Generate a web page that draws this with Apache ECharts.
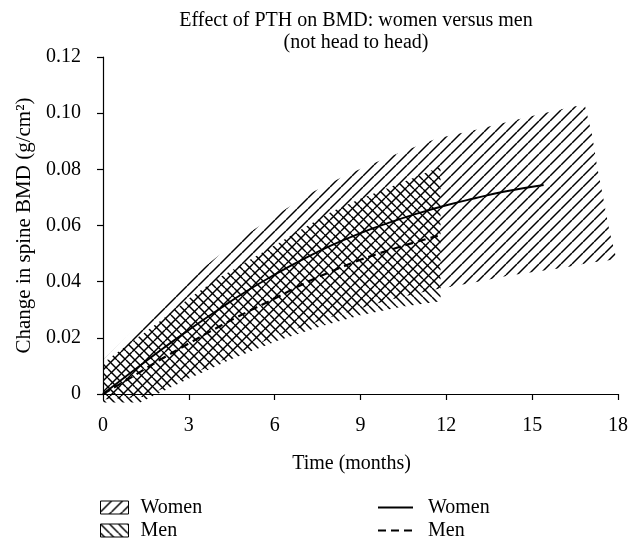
<!DOCTYPE html>
<html>
<head>
<meta charset="utf-8">
<script src="https://cdn.jsdelivr.net/npm/echarts@6/dist/echarts.min.js"></script>
<style>html,body{margin:0;padding:0;background:#fff}#c{width:637px;height:543px}</style>
</head>
<body>
<div id="c"></div>
<script>
// ---- data ----
const xTicks = [0, 3, 6, 9, 12, 15, 18];
const yTicks = [0, 0.02, 0.04, 0.06, 0.08, 0.10, 0.12];

// Women band ("/" hatch): upper edge (incl. slanted right edge) and lower edge
const womenUpper = [[0,0.012],[1,0.022],[2,0.032],[3.15,0.042],[4,0.049],[5.2,0.058],[6.4,0.066],[7.35,0.072],[8.5,0.078],[10,0.0845],[11.67,0.091],[13,0.094],[14.2,0.097],[15.4,0.100],[16.5,0.1025],[16.85,0.1025],[17.1,0.092],[17.27,0.081],[17.5,0.069],[17.7,0.058],[17.95,0.048]];
const womenLower = [[0,-0.002],[1.5,-0.001],[3,0.0065],[4.5,0.0135],[6,0.0205],[8,0.0275],[10,0.0335],[11.5,0.037],[12.06,0.038],[13.1,0.040],[14.1,0.042],[15.1,0.0435],[16.1,0.045],[17,0.0467],[17.95,0.048]];

// Men band ("\" hatch)
const menUpper = [[0,0.011],[1,0.0185],[2,0.026],[3,0.034],[4,0.041],[5,0.047],[6,0.053],[7,0.059],[8,0.065],[9,0.0695],[10,0.0735],[11,0.0775],[11.8,0.081]];
const menLower = [[0,-0.003],[1.3,-0.003],[2.9,0.005],[4.5,0.0125],[6.1,0.019],[7.6,0.024],[9,0.028],[10.4,0.031],[11.8,0.033]];

// Mean curves
const womenLine = [[0,0],[1,0.0078],[2,0.0155],[3,0.0228],[4,0.0298],[5,0.0365],[6,0.0425],[7,0.048],[8,0.053],[9,0.0573],[10,0.061],[11,0.0643],[12,0.0672],[13,0.0697],[14,0.072],[15.4,0.0744]];
const menLine = [[0,0],[1,0.006],[2,0.0122],[3,0.018],[4,0.0237],[5,0.029],[6,0.034],[7,0.0392],[8,0.0437],[9,0.0478],[10,0.0512],[11,0.0543],[11.7,0.0563]];

// ---- hatch patterns ----
function hatch(dir, s) {
  const c = document.createElement('canvas');
  c.width = s; c.height = s;
  const ctx = c.getContext('2d');
  ctx.strokeStyle = '#000';
  ctx.lineWidth = 1.45;
  ctx.beginPath();
  for (let k = -1; k <= 1; k++) {
    if (dir === '/') { ctx.moveTo(k * s, s); ctx.lineTo(k * s + s, 0); }
    else { ctx.moveTo(k * s, 0); ctx.lineTo(k * s + s, s); }
  }
  ctx.stroke();
  return { image: c, repeat: 'repeat' };
}
const womenPattern = hatch('/', 11);
const menPattern = hatch('\\', 9);

function band(upper, lower, pattern) {
  return function (params, api) {
    if (params.dataIndex !== 0) return;
    const pts = upper.map(p => api.coord(p)).concat(lower.slice().reverse().map(p => api.coord(p)));
    return { type: 'polygon', shape: { points: pts }, style: { fill: pattern, stroke: null } };
  };
}

const FONT = '"Liberation Serif", "DejaVu Serif", serif';
const FS = 20;
const chart = echarts.init(document.getElementById('c'), null, { renderer: 'canvas' });
chart.setOption({
  animation: false,
  backgroundColor: '#fff',
  title: {
    text: 'Effect of PTH on BMD: women versus men\n(not head to head)',
    left: 351, top: 5, textAlign: 'center',
    textStyle: { fontFamily: FONT, fontSize: FS, fontWeight: 'normal', color: '#000', lineHeight: 22 }
  },
  grid: { left: 103, right: 19, top: 57, bottom: 149 },
  xAxis: {
    type: 'value', min: 0, max: 18, interval: 3, offset: 8,
    name: 'Time (months)', nameLocation: 'middle', nameGap: 52,
    nameTextStyle: { fontFamily: FONT, fontSize: FS, color: '#000', padding: [0, 18, 0, 0] },
    axisLine: { show: true, lineStyle: { color: '#000', width: 1.2 } },
    axisTick: { show: true, length: 6, lineStyle: { color: '#000', width: 1.2 } },
    axisLabel: { fontFamily: FONT, fontSize: FS, color: '#000', margin: 14,
      formatter: v => xTicks.includes(v) ? String(v) : '' },
    splitLine: { show: false }
  },
  yAxis: {
    type: 'value', min: 0, max: 0.12, interval: 0.02, offset: 6,
    name: 'Change in spine BMD (g/cm²)', nameLocation: 'middle', nameGap: 60,
    nameTextStyle: { fontFamily: FONT, fontSize: 21, color: '#000' },
    axisLine: { show: true, lineStyle: { color: '#000', width: 1.2 } },
    axisTick: { show: true, length: 6, lineStyle: { color: '#000', width: 1.2 } },
    axisLabel: { fontFamily: FONT, fontSize: FS, color: '#000', margin: 16,
      formatter: v => { const t = yTicks.find(y => Math.abs(y - v) < 1e-9); return t === undefined ? '' : (t === 0 ? '0' : t.toFixed(2)); } },
    splitLine: { show: false }
  },
  legend: [
    {
      orient: 'vertical', left: 100, top: 497, height: 46, itemWidth: 28, itemHeight: 13, itemGap: 2, padding: 0,
      textStyle: { fontFamily: FONT, fontSize: FS, color: '#000', lineHeight: 21, padding: [0, 0, 0, 7] },
      formatter: n => n.replace(' band', ''),
      data: [
        { name: 'Women band', icon: 'rect', itemStyle: { color: womenPattern, borderColor: '#000', borderWidth: 1 } },
        { name: 'Men band', icon: 'rect', itemStyle: { color: menPattern, borderColor: '#000', borderWidth: 1 } }
      ],
      selectedMode: false
    },
    {
      orient: 'vertical', left: 377, top: 497, height: 46, itemWidth: 35, itemHeight: 13, itemGap: 2, padding: 0,
      textStyle: { fontFamily: FONT, fontSize: FS, color: '#000', lineHeight: 21, padding: [0, 0, 0, 10] },
      itemStyle: { opacity: 0 },
      data: ['Women', 'Men'],
      selectedMode: false
    }
  ],
  series: [
    { name: 'Women band', type: 'custom', data: [[0, 0]], encode: { x: 0, y: 1 }, clip: false,
      renderItem: band(womenUpper, womenLower, womenPattern), itemStyle: { color: '#000' }, silent: true },
    { name: 'Men band', type: 'custom', data: [[0, 0]], encode: { x: 0, y: 1 }, clip: false,
      renderItem: band(menUpper, menLower, menPattern), itemStyle: { color: '#000' }, silent: true },
    { name: 'Women', type: 'line', data: womenLine, smooth: true, symbol: 'none',
      lineStyle: { color: '#000', width: 1.9 }, itemStyle: { color: '#000' }, z: 5 },
    { name: 'Men', type: 'line', data: menLine, smooth: true, symbol: 'none',
      lineStyle: { color: '#000', width: 2.2, type: [8, 5] }, itemStyle: { color: '#000' }, z: 5 }
  ]
});
</script>
</body>
</html>
